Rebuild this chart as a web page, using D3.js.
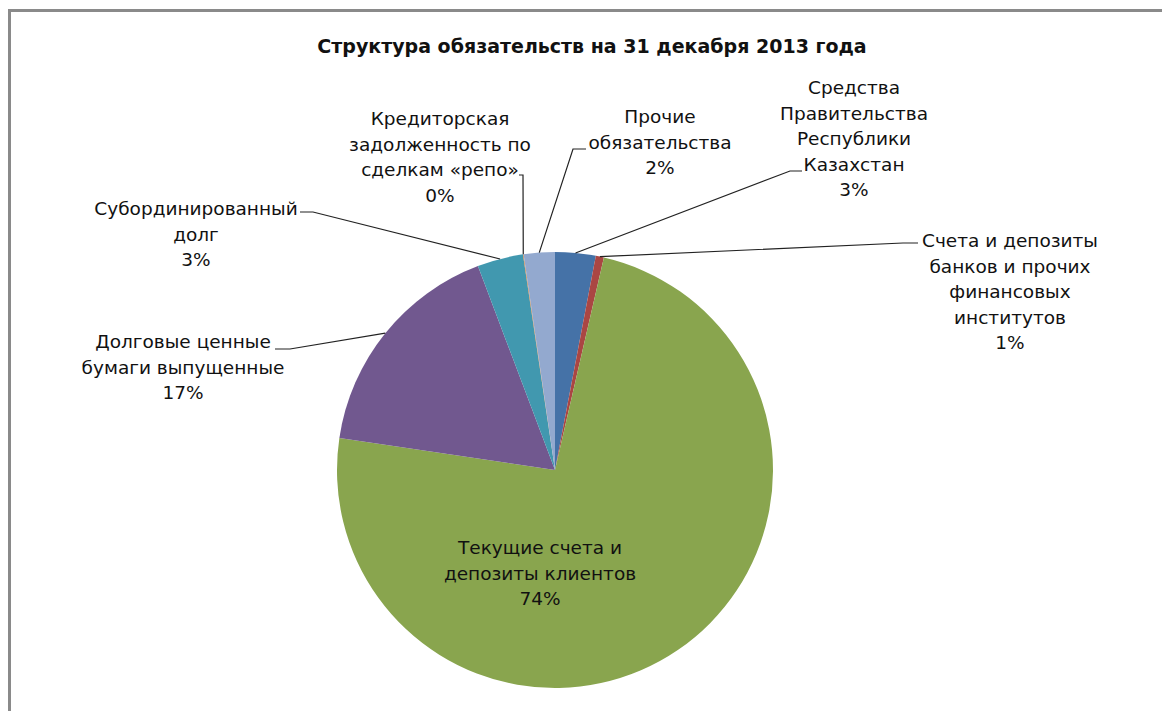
<!DOCTYPE html>
<html>
<head>
<meta charset="utf-8">
<script src="https://cdn.jsdelivr.net/npm/d3@7"></script>
<style>
  body { margin: 0; background: #fff; }
  text { font-family: "DejaVu Sans", Verdana, sans-serif; fill: #111; }
</style>
</head>
<body>
<div class="chart"></div>
<script>
var width = 1162,
    height = 711;

// data
var names = [
  "Средства Правительства Республики Казахстан",
  "Счета и депозиты банков и прочих финансовых институтов",
  "Текущие счета и депозиты клиентов",
  "Долговые ценные бумаги выпущенные",
  "Субординированный долг",
  "Кредиторская задолженность по сделкам «репо»",
  "Прочие обязательства"
];
var values = [3.0, 0.6, 73.75, 16.9, 3.4, 0.05, 2.3];
var colors = ["#4572a7", "#aa4643", "#89a54e", "#71588f", "#4198af", "#db843d", "#93a9cf"];

// label lines as wrapped in the picture
var labelLines = [
  ["Средства", "Правительства", "Республики", "Казахстан"],
  ["Счета и депозиты", "банков и прочих", "финансовых", "институтов"],
  ["Текущие счета и", "депозиты клиентов"],
  ["Долговые ценные", "бумаги выпущенные"],
  ["Субординированный", "долг"],
  ["Кредиторская", "задолженность по", "сделкам «репо»"],
  ["Прочие", "обязательства"]
];

// label layout: text centre x, first line y, leader end point (null = inside)
var labelPos = [
  {x: 854, y: 94,  end: [790, 171], hook: 12},
  {x: 1010, y: 247, end: [903, 243], hook: 15},
  {x: 540, y: 554, end: null},
  {x: 183, y: 348, end: [290, 349], hook: -15},
  {x: 196, y: 215, end: [313, 212], hook: -13},
  {x: 440, y: 125, end: [523, 175], hook: -4},
  {x: 660, y: 123, end: [573, 149], hook: 13}
];

var cx = 555, cy = 470, r = 218;
var lineH = 25.5;

var svg = d3.select(".chart").append("svg")
    .attr("width", width)
    .attr("height", height);

svg.append("rect").attr("width", width).attr("height", height).attr("fill", "#fff");

// chart frame (only top and left show)
svg.append("path")
    .attr("d", "M9.5," + height + "V10.5H" + width)
    .attr("fill", "none")
    .attr("stroke", "#8a8a8a")
    .attr("stroke-width", 3);

svg.append("text")
    .attr("x", 592)
    .attr("y", 53)
    .attr("text-anchor", "middle")
    .style("font-weight", "bold")
    .style("font-size", "19px")
    .text("Структура обязательств на 31 декабря 2013 года");

var pie = d3.pie().sort(null).value(function(d) { return d; });
var arcs = pie(values);

var arc = d3.arc().innerRadius(0).outerRadius(r);

var g = svg.append("g").attr("transform", "translate(" + cx + "," + cy + ")");

g.selectAll("path.slice")
    .data(arcs)
    .enter()
    .append("path")
    .attr("class", "slice")
    .attr("d", arc)
    .attr("fill", function(d, i) { return colors[i]; });

// leader lines
arcs.forEach(function(d, i) {
  var p = labelPos[i];
  if (!p.end) return;
  var a = (d.startAngle + d.endAngle) / 2;
  var x0 = cx + r * Math.sin(a), y0 = cy - r * Math.cos(a);
  svg.append("path")
      .attr("d", d3.line()([[x0, y0], p.end, [p.end[0] + p.hook, p.end[1]]]))
      .attr("fill", "none")
      .attr("stroke", "#222")
      .attr("stroke-width", 1.2);
});

// labels
arcs.forEach(function(d, i) {
  var p = labelPos[i];
  var lines = labelLines[i].concat([Math.round(values[i]) + "%"]);
  var t = svg.append("text")
      .attr("text-anchor", "middle")
      .style("font-size", "18.5px");
  lines.forEach(function(s, j) {
    t.append("tspan")
        .attr("x", p.x)
        .attr("y", p.y + j * lineH)
        .text(s);
  });
});
</script>
</body>
</html>
